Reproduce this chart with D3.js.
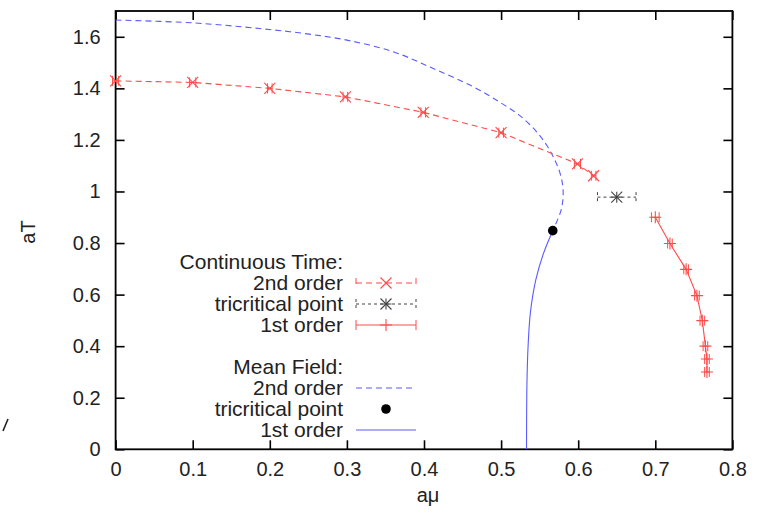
<!DOCTYPE html>
<html>
<head>
<meta charset="utf-8">
<script src="https://cdn.jsdelivr.net/npm/d3@7/dist/d3.min.js"></script>
<style>
  html, body { margin: 0; padding: 0; background: #fff; }
  svg text { font-family: "Liberation Sans", Arial, Helvetica, sans-serif; fill: #222; }
</style>
</head>
<body>
<svg id="chart" width="763" height="513"></svg>
<script>
// Phase diagram: aT versus aμ

// Continuous time, 2nd order line [aμ, aT, error in aμ]
const ct2nd = [
  [0.000, 1.429, 0.004], [0.100, 1.423, 0.004], [0.200, 1.400, 0.003],
  [0.298, 1.367, 0.003], [0.399, 1.307, 0.003], [0.500, 1.228, 0.003],
  [0.599, 1.107, 0.004], [0.620, 1.061, 0.003]
];
// Continuous time, tricritical point
const ctTri = [[0.650, 0.978, 0.025]];
// Continuous time, 1st order line
const ct1st = [
  [0.700, 0.900, 0.005], [0.719, 0.798, 0.003], [0.740, 0.698, 0.003],
  [0.754, 0.596, 0.003], [0.761, 0.499, 0.003], [0.765, 0.400, 0.003],
  [0.767, 0.350, 0.003], [0.767, 0.300, 0.003]
];
// Mean field, 2nd order line
const mf2nd = [
  [0.000, 1.665], [0.100, 1.654], [0.187, 1.632], [0.244, 1.613],
  [0.300, 1.587], [0.360, 1.542], [0.412, 1.477], [0.464, 1.406],
  [0.499, 1.345], [0.524, 1.295], [0.545, 1.235], [0.559, 1.180],
  [0.570, 1.120], [0.5775, 1.060], [0.5805, 1.000], [0.578, 0.930],
  [0.567, 0.848]
];
// Mean field, tricritical point
const mfTri = [[0.567, 0.848]];
// Mean field, 1st order line
const mf1st = [
  [0.567, 0.848], [0.555, 0.760], [0.545, 0.657], [0.538, 0.530],
  [0.535, 0.400], [0.5335, 0.250], [0.533, 0.000]
];

const xTicks = [0, 0.1, 0.2, 0.3, 0.4, 0.5, 0.6, 0.7, 0.8];
const yTicks = [0, 0.2, 0.4, 0.6, 0.8, 1, 1.2, 1.4, 1.6];

const svg = d3.select("#chart");
const pLeft = 115.6, pRight = 732.4, pTop = 11, pBottom = 449.3;

const x = d3.scaleLinear().domain([0, 0.8]).range([pLeft, pRight]);
const y = d3.scaleLinear().domain([0, 1.7]).range([pBottom, pTop]);

const RED = "#ff4a4a", BLUE = "#5a5aff", GREY = "#444";

// Frame and inward ticks on all four sides
const tickLen = 9;
const fmt = d => String(+d.toFixed(1));
const axG = svg.append("g");
axG.append("g").attr("transform", `translate(0,${pBottom})`)
  .call(d3.axisBottom(x).tickValues(xTicks).tickSize(-tickLen).tickPadding(13).tickFormat(fmt));
axG.append("g").attr("transform", `translate(0,${pTop})`)
  .call(d3.axisTop(x).tickValues(xTicks).tickSize(-tickLen).tickFormat(""));
axG.append("g").attr("transform", `translate(${pLeft},0)`)
  .call(d3.axisLeft(y).tickValues(yTicks).tickSize(-tickLen).tickPadding(15).tickFormat(fmt));
axG.append("g").attr("transform", `translate(${pRight},0)`)
  .call(d3.axisRight(y).tickValues(yTicks).tickSize(-tickLen).tickFormat(""));
axG.selectAll(".domain").remove();
axG.selectAll(".tick line").attr("stroke", "#000").attr("stroke-width", 1.6);
axG.selectAll(".tick text").style("font-size", "20px").attr("fill", "#222");
axG.append("rect").attr("x", pLeft).attr("y", pTop)
  .attr("width", pRight - pLeft).attr("height", pBottom - pTop)
  .attr("fill", "none").attr("stroke", "#000").attr("stroke-width", 1.8);

// Axis titles
svg.append("text").attr("x", 428).attr("y", 502)
  .attr("text-anchor", "middle").style("font-size", "20px").text("aμ");
svg.append("text").attr("transform", `translate(35,232) rotate(-90)`)
  .attr("text-anchor", "middle").style("font-size", "20px").text("aT");
// small stroke at the left margin
svg.append("line").attr("x1", 3).attr("y1", 431).attr("x2", 8).attr("y2", 419)
  .attr("stroke", "#222").attr("stroke-width", 1.6);

const plot = svg.append("g");
const line = d3.line().x(d => x(d[0])).y(d => y(d[1]));
const smooth = d3.line().x(d => x(d[0])).y(d => y(d[1])).curve(d3.curveCatmullRom.alpha(0.5));

// Mean field curves
plot.append("path").datum(mf2nd).attr("d", smooth)
  .attr("fill", "none").attr("stroke", BLUE).attr("stroke-width", 1.1)
  .attr("stroke-dasharray", "6,4");
plot.append("path").datum(mf1st).attr("d", smooth)
  .attr("fill", "none").attr("stroke", BLUE).attr("stroke-width", 1.1);

// Marker shapes
function crossMark(g, cx, cy, color, s) {
  g.append("path").attr("d", `M${cx - s},${cy - s}L${cx + s},${cy + s}M${cx - s},${cy + s}L${cx + s},${cy - s}`)
    .attr("stroke", color).attr("stroke-width", 1.1).attr("fill", "none");
}
function plusMark(g, cx, cy, color, s) {
  g.append("path").attr("d", `M${cx - s},${cy}L${cx + s},${cy}M${cx},${cy - s}L${cx},${cy + s}`)
    .attr("stroke", color).attr("stroke-width", 1.1).attr("fill", "none");
}
function starMark(g, cx, cy, color, s) {
  crossMark(g, cx, cy, color, s);
  plusMark(g, cx, cy, color, s);
}
function xErr(g, d, color, dash) {
  const x0 = x(d[0] - d[2]), x1 = x(d[0] + d[2]), yy = y(d[1]), c = 5;
  g.append("path").attr("d", `M${x0},${yy}L${x1},${yy}M${x0},${yy - c}L${x0},${yy + c}M${x1},${yy - c}L${x1},${yy + c}`)
    .attr("stroke", color).attr("stroke-width", 1).attr("fill", "none")
    .attr("stroke-dasharray", dash || null);
}

// Continuous time, 2nd order
plot.append("path").datum(ct2nd).attr("d", line)
  .attr("fill", "none").attr("stroke", RED).attr("stroke-width", 1.1)
  .attr("stroke-dasharray", "6,4");
ct2nd.forEach(d => { xErr(plot, d, RED); crossMark(plot, x(d[0]), y(d[1]), RED, 5.5); });

// Continuous time, tricritical point
ctTri.forEach(d => { xErr(plot, d, GREY, "3,3"); starMark(plot, x(d[0]), y(d[1]), GREY, 5.5); });

// Continuous time, 1st order
plot.append("path").datum(ct1st).attr("d", line)
  .attr("fill", "none").attr("stroke", RED).attr("stroke-width", 1.1);
ct1st.forEach(d => { xErr(plot, d, RED); plusMark(plot, x(d[0]), y(d[1]), RED, 6); });

// Mean field tricritical point
plot.selectAll("circle.mf").data(mfTri).join("circle").attr("class", "mf")
  .attr("cx", d => x(d[0])).attr("cy", d => y(d[1])).attr("r", 4.8).attr("fill", "#000");

// Legend
const leg = svg.append("g");
const tx = 343, lx0 = 356, lx1 = 416, mx = 386;
const rows = [
  { t: "Continuous Time:", y: 262 },
  { t: "2nd order", y: 283, k: "ct2" },
  { t: "tricritical point", y: 304, k: "ctt" },
  { t: "1st order", y: 325, k: "ct1" },
  { t: "Mean Field:", y: 367 },
  { t: "2nd order", y: 388, k: "mf2" },
  { t: "tricritical point", y: 409, k: "mft" },
  { t: "1st order", y: 430, k: "mf1" }
];
rows.forEach(r => {
  leg.append("text").attr("x", tx).attr("y", r.y).attr("dy", "0.35em")
    .attr("text-anchor", "end").style("font-size", "21px").text(r.t);
  const yy = r.y, c = 5;
  const bar = (color, dash) => leg.append("path")
    .attr("d", `M${lx0},${yy}L${lx1},${yy}M${lx0},${yy - c}L${lx0},${yy + c}M${lx1},${yy - c}L${lx1},${yy + c}`)
    .attr("stroke", color).attr("stroke-width", 1).attr("fill", "none").attr("stroke-dasharray", dash || null);
  if (r.k === "ct2") { bar(RED, "6,4"); crossMark(leg, mx, yy, RED, 5.5); }
  if (r.k === "ctt") { bar(GREY, "3,3"); starMark(leg, mx, yy, GREY, 5.5); }
  if (r.k === "ct1") { bar(RED); plusMark(leg, mx, yy, RED, 6); }
  if (r.k === "mf2") leg.append("line").attr("x1", lx0).attr("x2", lx1).attr("y1", yy).attr("y2", yy)
    .attr("stroke", BLUE).attr("stroke-width", 1.1).attr("stroke-dasharray", "6,4");
  if (r.k === "mft") leg.append("circle").attr("cx", mx).attr("cy", yy).attr("r", 4.8).attr("fill", "#000");
  if (r.k === "mf1") leg.append("line").attr("x1", lx0).attr("x2", lx1).attr("y1", yy).attr("y2", yy)
    .attr("stroke", BLUE).attr("stroke-width", 1.1);
});
</script>
</body>
</html>
